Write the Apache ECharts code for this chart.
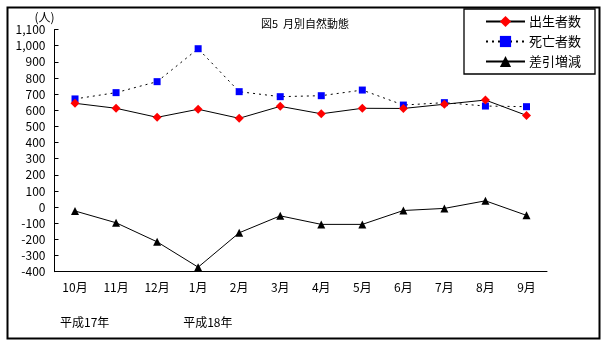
<!DOCTYPE html>
<html><head><meta charset="utf-8">
<script src="https://cdn.jsdelivr.net/npm/echarts@6/dist/echarts.min.js"></script>
<style>html,body{margin:0;padding:0;background:#fff}#c{width:607px;height:342px}</style>
</head><body><div id="c"></div>
<script>
const months = ['10月','11月','12月','1月','2月','3月','4月','5月','6月','7月','8月','9月'];
const births = [643, 612, 556, 606, 550, 624, 578, 612, 611, 637, 663, 568];
const deaths = [670, 709, 777, 981, 715, 684, 690, 725, 632, 647, 626, 622];
const diffs  = [-24, -97, -215, -372, -159, -54, -107, -107, -21, -8, 39, -51];
const yearLabels = [{idx: 0, text: '平成17年'}, {idx: 3, text: '平成18年'}];
const FONT = '"Noto Sans CJK JP", "Noto Sans", sans-serif';

const chart = echarts.init(document.getElementById('c'), null, {renderer: 'canvas'});
chart.setOption({
  animation: false,
  backgroundColor: '#fff',
  textStyle: {fontFamily: FONT, color: '#000'},
  title: {
    text: '図5  月別自然動態', left: 256, top: 13,
    textStyle: {fontSize: 11, fontWeight: 'normal', color: '#000', fontFamily: FONT}
  },
  legend: {
    orient: 'vertical', left: 464, top: 9,
    padding: [6, 14, 6, 21], itemGap: 7, itemWidth: 39, itemHeight: 14,
    borderColor: '#000', borderWidth: 1.3, backgroundColor: '#fff',
    textStyle: {fontSize: 13, color: '#000', fontFamily: FONT, padding: [0, 0, 0, -1]},
    data: ['出生者数', '死亡者数', '差引増減']
  },
  grid: {left: 54.5, right: 60, top: 29.5, bottom: 70.3, containLabel: false},
  xAxis: {
    type: 'category', data: months, boundaryGap: true,
    axisLine: {onZero: false, lineStyle: {color: '#000', width: 1}},
    axisTick: {inside: true, length: 4, lineStyle: {color: '#000'}},
    axisLabel: {fontSize: 12, color: '#000', margin: 10, fontFamily: FONT},
    splitLine: {show: false}
  },
  yAxis: {
    type: 'value', min: -400, max: 1100, interval: 100,
    name: '(人)', nameLocation: 'end', nameGap: 6,
    nameTextStyle: {fontSize: 12, color: '#000', align: 'right', padding: [0, 0, 0, 0], fontFamily: FONT},
    axisLine: {show: true, onZero: false, lineStyle: {color: '#000', width: 1}},
    axisTick: {show: true, inside: true, length: 4, lineStyle: {color: '#000'}},
    axisLabel: {fontSize: 12, color: '#000', margin: 9, fontFamily: FONT,
      formatter: v => v.toLocaleString('en-US')},
    splitLine: {show: false}
  },
  series: [
    {name: '出生者数', type: 'line', data: births, symbol: 'diamond', symbolSize: 9,
     itemStyle: {color: '#ff0000'}, lineStyle: {color: '#000', width: 1}, z: 3},
    {name: '死亡者数', type: 'line', data: deaths, symbol: 'rect', symbolSize: 7,
     itemStyle: {color: '#0000ff'}, lineStyle: {color: '#000', width: 1, type: [2, 4]}, z: 2},
    {name: '差引増減', type: 'line', data: diffs, symbol: 'triangle', symbolSize: 8,
     itemStyle: {color: '#000'}, lineStyle: {color: '#000', width: 1}, z: 3}
  ]
});

const g = [{type: 'rect', left: 5, top: 5, shape: {x: 0, y: 0, width: 592, height: 331},
  style: {fill: null, stroke: '#000', lineWidth: 2}, silent: true, z: -1}];
yearLabels.forEach(y => {
  const px = chart.convertToPixel({xAxisIndex: 0}, months[y.idx]);
  g.push({type: 'text', x: px - 15, y: 316,
    style: {text: y.text, font: '12px ' + FONT, fill: '#000'}});
});
chart.setOption({graphic: g});
</script></body></html>
